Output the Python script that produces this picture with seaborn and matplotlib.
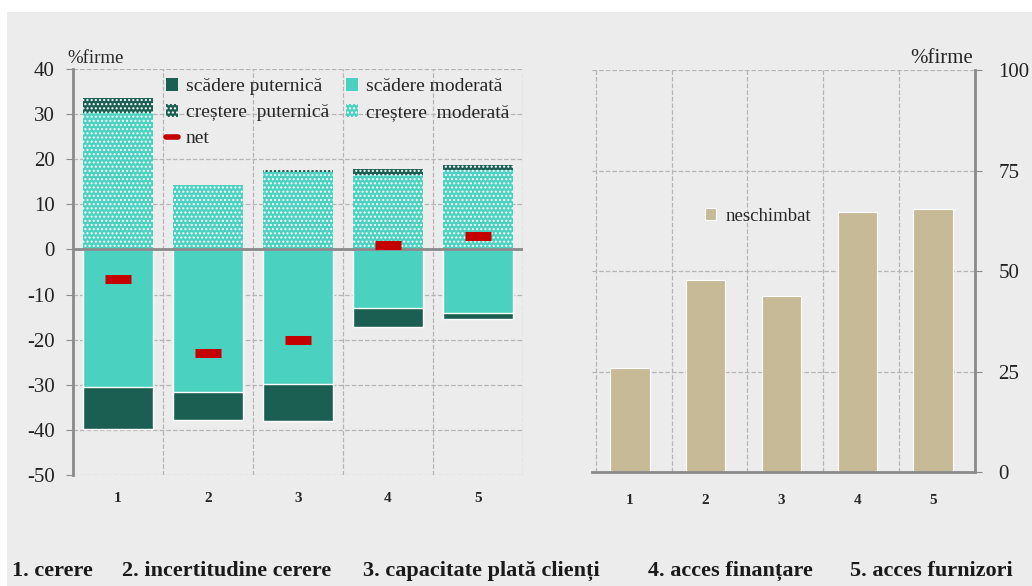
import numpy as np
import pandas as pd
import matplotlib
matplotlib.use("Agg")
import matplotlib.pyplot as plt
import seaborn as sns
from matplotlib.patches import Patch, Rectangle
from matplotlib.lines import Line2D

# date
categorii = ["1", "2", "3", "4", "5"]
crestere_moderata = [30.3, 14.3, 17.2, 16.5, 17.7]
crestere_puternica = [3.2, 0.0, 0.5, 1.4, 1.0]
scadere_moderata = [-30.4, -31.5, -29.8, -13.0, -14.0]
scadere_puternica = [-9.5, -6.3, -8.3, -4.2, -1.4]
net = [-6.5, -23.0, -20.0, 1.0, 3.0]
neschimbat = [26.0, 47.8, 43.8, 64.7, 65.4]
note = ["1. cerere", "2. incertitudine cerere", "3. capacitate plată clienți",
        "4. acces finanțare", "5. acces furnizori"]

c_dark = "#1b5e52"
c_light = "#4ad1c0"
c_beige = "#c6ba97"
c_red = "#c40000"
bg = "#ececec"
gridc = "#b5b5b5"
axc = "#8a8a8a"

sns.set_style("white")
plt.rcParams["font.family"] = ["Liberation Serif", "DejaVu Serif"]
plt.rcParams["hatch.linewidth"] = 1.0
plt.rcParams["axes.unicode_minus"] = False

df = pd.DataFrame({"cat": categorii,
                   "cm": crestere_moderata, "cp": crestere_puternica,
                   "sm": scadere_moderata, "sp": scadere_puternica,
                   "net": net, "nes": neschimbat})
df["pos_tot"] = df["cm"] + df["cp"]
df["neg_tot"] = df["sm"] + df["sp"]

fig = plt.figure(figsize=(10.32, 5.86), dpi=100, facecolor="white")
# fundal gri, cu o margine alba sus si la stanga
fig.patches.append(Rectangle((7 / 1032, 0), 1, 1 - 12 / 586,
                             transform=fig.transFigure, facecolor=bg,
                             edgecolor="none", zorder=-10))
ax1 = fig.add_axes([0.0707, 0.1894, 0.436, 0.693])
ax2 = fig.add_axes([0.5736, 0.1945, 0.371, 0.686])
for ax in (ax1, ax2):
    ax.set_facecolor(bg)

# stanga: bare stivuite (desenate suprapus)
sns.barplot(data=df, x="cat", y="pos_tot", color=c_dark, width=0.77, ax=ax1,
            saturation=1, hatch="....", edgecolor="white", linewidth=0)
sns.barplot(data=df, x="cat", y="cm", color=c_light, width=0.77, ax=ax1,
            saturation=1, hatch="....", edgecolor="white", linewidth=0)
sns.barplot(data=df, x="cat", y="neg_tot", color=c_dark, width=0.77, ax=ax1,
            saturation=1, edgecolor="white", linewidth=1)
sns.barplot(data=df, x="cat", y="sm", color=c_light, width=0.77, ax=ax1,
            saturation=1, edgecolor="white", linewidth=1)
sns.scatterplot(data=df, x="cat", y="net", marker="_", s=340, linewidth=6.5,
                color=c_red, ax=ax1, zorder=5)

ax1.set_ylim(-50, 40)
ax1.set_xlim(-0.5, 4.5)
ax1.set_yticks(range(-50, 41, 10))
ax1.set_xlabel("")
ax1.set_ylabel("")
ax1.set_xticks(np.arange(0.5, 4.6, 1), minor=True)
ax1.grid(True, which="minor", axis="x", linestyle="--", color=gridc, lw=0.9)
ax1.grid(True, which="major", axis="y", linestyle="--", color=gridc, lw=0.9)
ax1.set_axisbelow(True)
ax1.axhline(0, color=axc, lw=2, zorder=4)
for s in ["top", "right", "bottom"]:
    ax1.spines[s].set_visible(False)
ax1.spines["left"].set_color(axc)
ax1.spines["left"].set_linewidth(2)
ax1.tick_params(axis="y", which="major", left=True, length=5, color=axc,
                labelsize=15, pad=8, labelcolor="#222222")
ax1.tick_params(axis="x", which="both", bottom=False, labelsize=11, pad=9)
for t in ax1.get_xticklabels():
    t.set_fontweight("bold")
ax1.text(-0.012, 1.005, "%firme", transform=ax1.transAxes, fontsize=13.5,
         ha="left", va="bottom")

h_sp = Patch(facecolor=c_dark, edgecolor="white", linewidth=0)
h_cp = Patch(facecolor=c_dark, edgecolor="white", hatch="....", linewidth=0)
h_net = Line2D([], [], color=c_red, lw=4)
h_sm = Patch(facecolor=c_light, edgecolor="white", linewidth=0)
h_cm = Patch(facecolor=c_light, edgecolor="white", hatch="....", linewidth=0)
ax1.legend([h_sp, h_cp, h_net, h_sm, h_cm],
           ["scădere puternică", "creștere  puternică", "net",
            "scădere moderată", "creștere  moderată"],
           ncol=2, loc="upper right", bbox_to_anchor=(1.0, 1.01),
           frameon=False, fontsize=14, handlelength=0.6,
           handleheight=0.6, handletextpad=0.4, columnspacing=0.9,
           labelspacing=0.45, borderaxespad=0.3)

# dreapta: neschimbat
sns.barplot(data=df, x="cat", y="nes", color=c_beige, width=0.52, ax=ax2,
            saturation=1, edgecolor="white", linewidth=0.8, label="neschimbat")
ax2.set_ylim(0, 100)
ax2.set_xlim(-0.5, 4.5)
ax2.set_yticks([0, 25, 50, 75, 100])
ax2.set_xlabel("")
ax2.set_ylabel("")
ax2.yaxis.tick_right()
ax2.set_xticks(np.arange(-0.45, 4.6, 1), minor=True)
ax2.grid(True, which="minor", axis="x", linestyle="--", color=gridc, lw=0.9)
ax2.grid(True, which="major", axis="y", linestyle="--", color=gridc, lw=0.9)
ax2.set_axisbelow(True)
for s in ["top", "left"]:
    ax2.spines[s].set_visible(False)
for s in ["right", "bottom"]:
    ax2.spines[s].set_color(axc)
    ax2.spines[s].set_linewidth(2)
ax2.tick_params(axis="y", which="major", right=True, length=5, color=axc,
                labelsize=15, pad=12, labelcolor="#222222")
ax2.tick_params(axis="x", which="both", bottom=False, labelsize=11, pad=12)
for t in ax2.get_xticklabels():
    t.set_fontweight("bold")
ax2.text(0.995, 1.005, "%firme", transform=ax2.transAxes, fontsize=15,
         ha="right", va="bottom")
ax2.legend(loc="upper left", bbox_to_anchor=(0.25, 0.70), frameon=False,
           fontsize=13.5, handlelength=0.6, handleheight=0.6, handletextpad=0.5)

# nota de subsol
xs = [12, 122, 363, 648, 850]
for x, t in zip(xs, note):
    fig.text(x / 1032, 1 - 571 / 586, t, fontsize=16, fontweight="bold",
             va="center", ha="left", color="#1a1a1a")

fig.savefig("out.png", dpi=100, facecolor="white")
